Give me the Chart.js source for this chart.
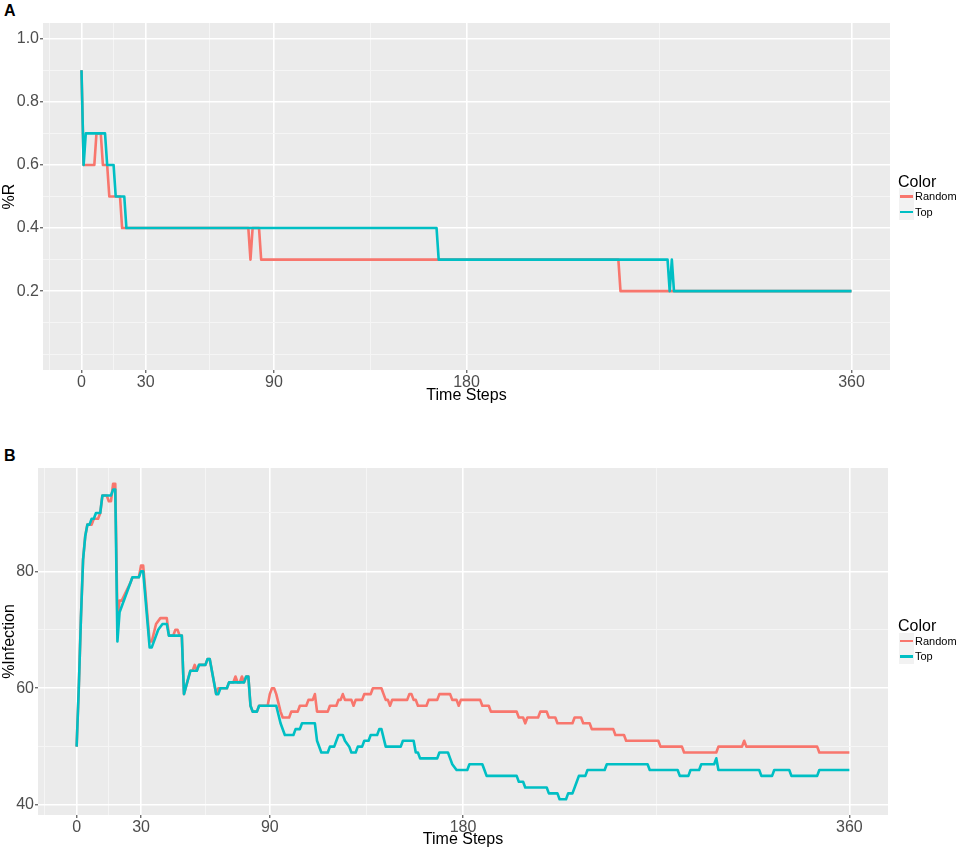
<!DOCTYPE html>
<html>
<head>
<meta charset="utf-8">
<script src="https://cdn.jsdelivr.net/npm/chart.js@4.4.1/dist/chart.umd.min.js"></script>
<style>
  html, body { margin: 0; padding: 0; background: #fff; }
  body { width: 957px; height: 851px; position: relative; overflow: hidden; font-family: 'Liberation Sans', Arial, sans-serif; }
  .panel { position: absolute; left: 0; width: 957px; }
  .tag { position: absolute; left: 4px; font-weight: bold; font-size: 16px; line-height: 16px; }
  .leg-title { position: absolute; left: 898px; font-size: 16px; line-height: 18px; color: #000; }
  .leg-key { position: absolute; left: 899px; width: 15px; height: 16px; background: #F2F2F2; }
  .leg-key span { position: absolute; left: 1px; right: 1px; top: 7px; height: 2.5px; }
  .leg-label { position: absolute; left: 915px; font-size: 11px; line-height: 12px; color: #000; }
</style>
</head>
<body>
<div class="tag" style="top:3px">A</div>
<div class="tag" style="top:448px">B</div>
<div class="panel" style="top:0;height:420px"><canvas id="chartA"></canvas></div>
<div class="panel" style="top:440px;height:411px"><canvas id="chartB"></canvas></div>
<div id="legends"></div>
<script>
// series names + colours (ggplot defaults)
const seriesNames = ['Random', 'Top']
const seriesColors = ['#F8766D', '#00BFC4']

// x axis (time steps), shared by both panels
const xMajor = [0, 30, 90, 180, 360]
const xMinor = [-15, 15, 60, 135, 270]
const xLimits = [0, 360]

// panel A: %R
const aYMajor = [0.2, 0.4, 0.6, 0.8, 1.0]
const aYMinor = [0.0, 0.1, 0.3, 0.5, 0.7, 0.9]
const aYLimits = [0, 1]
const aRandomT = [0, 1, 6, 7, 9, 10, 12, 13, 18, 19, 78, 79, 80, 83, 84, 251, 252, 360]
const aRandomV = [0.9, 0.6, 0.6, 0.7, 0.7, 0.6, 0.6, 0.5, 0.5, 0.4, 0.4, 0.3, 0.4, 0.4, 0.3, 0.3, 0.2, 0.2]
const aTopT = [0, 1, 2, 11, 12, 15, 16, 20, 21, 166, 167, 274, 275, 276, 277, 360]
const aTopV = [0.9, 0.6, 0.7, 0.7, 0.6, 0.6, 0.5, 0.5, 0.4, 0.4, 0.3, 0.3, 0.2, 0.3, 0.2, 0.2]

// panel B: %Infection
const bYMajor = [40, 60, 80]
const bYMinor = [50, 70, 90]
const bYLimits = [41, 95]
const bRandomT = [0, 1, 2, 3, 4, 5, 7, 8, 10, 11, 12, 14, 15, 16, 17, 18, 19, 20, 21, 25, 26, 29, 30, 31, 34, 35, 37, 39, 42, 43, 45, 46, 47, 48, 49, 50, 53, 54, 55, 56, 57, 60, 61, 62, 65, 66, 70, 71, 73, 74, 75, 76, 77, 78, 79, 80, 81, 82, 84, 85, 89, 90, 91, 92, 93, 95, 96, 99, 100, 103, 104, 107, 108, 110, 111, 112, 117, 118, 121, 122, 123, 124, 125, 128, 129, 130, 133, 134, 137, 138, 142, 143, 144, 145, 146, 147, 154, 155, 156, 157, 158, 159, 163, 164, 168, 169, 174, 175, 177, 178, 179, 188, 189, 192, 193, 205, 206, 208, 209, 210, 215, 216, 219, 220, 223, 224, 231, 232, 235, 236, 239, 240, 250, 251, 255, 256, 271, 272, 282, 283, 298, 299, 310, 311, 312, 345, 346, 360]
const bRandomV = [50, 60, 72, 82, 86, 88, 88, 89, 89, 90, 93, 93, 92, 92, 95, 95, 72, 75, 75, 78, 79, 79, 81, 81, 68, 68, 71, 72, 72, 69, 69, 70, 70, 69, 69, 59, 63, 63, 64, 63, 64, 64, 65, 65, 59, 60, 60, 61, 61, 62, 61, 61, 62, 61, 62, 62, 57, 56, 56, 57, 57, 59, 60, 60, 59, 56, 55, 55, 56, 56, 57, 57, 58, 58, 59, 56, 56, 57, 57, 58, 58, 59, 58, 58, 57, 58, 58, 59, 59, 60, 60, 59, 58, 58, 57, 58, 58, 59, 59, 58, 58, 57, 57, 58, 58, 59, 59, 58, 58, 57, 58, 58, 57, 57, 56, 56, 55, 55, 54, 55, 55, 56, 56, 55, 55, 54, 54, 55, 55, 54, 54, 53, 53, 52, 52, 51, 51, 50, 50, 49, 49, 50, 50, 51, 50, 50, 49, 49]
const bTopT = [0, 1, 2, 3, 4, 5, 6, 7, 8, 9, 11, 12, 16, 17, 18, 19, 20, 26, 29, 30, 31, 34, 35, 38, 40, 42, 43, 49, 50, 53, 56, 57, 60, 61, 62, 65, 66, 67, 70, 71, 78, 79, 80, 81, 82, 84, 85, 93, 95, 97, 101, 102, 104, 105, 111, 112, 114, 117, 118, 120, 121, 122, 124, 125, 127, 128, 130, 131, 133, 134, 136, 137, 140, 141, 142, 144, 151, 152, 157, 158, 159, 160, 168, 169, 173, 174, 175, 177, 182, 183, 189, 190, 191, 205, 206, 208, 209, 219, 220, 224, 225, 228, 229, 231, 233, 234, 237, 238, 246, 247, 266, 267, 280, 281, 285, 286, 290, 291, 297, 298, 299, 318, 319, 324, 325, 332, 333, 345, 346, 360]
const bTopV = [50, 60, 72, 82, 86, 88, 88, 89, 89, 90, 90, 93, 93, 94, 94, 68, 73, 79, 79, 80, 80, 67, 67, 70, 71, 71, 69, 69, 59, 63, 63, 64, 64, 65, 65, 59, 59, 60, 60, 61, 61, 62, 62, 57, 56, 56, 57, 57, 54, 52, 52, 53, 53, 54, 54, 51, 49, 49, 50, 50, 51, 52, 52, 51, 50, 49, 49, 50, 50, 51, 51, 52, 52, 53, 53, 50, 50, 51, 51, 49, 49, 48, 48, 49, 49, 48, 47, 46, 46, 47, 47, 46, 45, 45, 44, 44, 43, 43, 42, 42, 41, 41, 42, 42, 44, 45, 45, 46, 46, 47, 47, 46, 46, 45, 45, 46, 46, 47, 47, 48, 46, 46, 45, 45, 46, 46, 45, 45, 46, 46]

const toPoints = (ts, vs) => ts.map((t, i) => ({ x: t, y: vs[i] }))
const expand = (lim) => {
  const pad = (lim[1] - lim[0]) * 0.05
  return [lim[0] - pad, lim[1] + pad]
}

// grey panel behind the grid, like ggplot's theme_grey
const panelBackground = {
  id: 'panelBackground',
  beforeDraw(chart) {
    const { ctx, chartArea: a } = chart
    ctx.save()
    ctx.fillStyle = '#EBEBEB'
    ctx.fillRect(a.left, a.top, a.right - a.left, a.bottom - a.top)
    ctx.restore()
  }
}

const axisFor = ({ major, minor, limits, title, size, fmt, isX }) => {
  const range = expand(limits)
  const all = [...major, ...minor].sort((p, q) => p - q)
  return {
    type: 'linear',
    min: range[0],
    max: range[1],
    afterBuildTicks: (scale) => { scale.ticks = all.map(v => ({ value: v })) },
    afterFit: (scale) => { if (isX) scale.height = size; else scale.width = size },
    border: { display: false },
    grid: {
      color: (c) => major.includes(c.tick.value) ? '#FFFFFF' : '#F5F5F5',
      lineWidth: (c) => major.includes(c.tick.value) ? 1.6 : 1,
      tickColor: (c) => major.includes(c.tick.value) ? '#333333' : 'rgba(0,0,0,0)',
      tickLength: 3,
      tickWidth: 1
    },
    ticks: {
      autoSkip: false,
      maxRotation: 0,
      padding: isX ? 0 : 1,
      color: '#4D4D4D',
      font: { family: 'Liberation Sans', size: 16 },
      callback: (v) => major.includes(v) ? fmt(v) : ''
    },
    title: {
      display: true,
      text: title,
      color: '#000000',
      padding: 0,
      font: { family: 'Liberation Sans', size: 16 }
    }
  }
}

const makePanel = (id, cfg) => {
  const ctx = document.getElementById(id).getContext('2d')
  return new Chart(ctx, {
    type: 'line',
    data: {
      datasets: [
        {
          label: seriesNames[0],
          data: toPoints(cfg.randomT, cfg.randomV),
          borderColor: seriesColors[0],
          order: 1
        },
        {
          label: seriesNames[1],
          data: toPoints(cfg.topT, cfg.topV),
          borderColor: seriesColors[1],
          order: 0
        }
      ]
    },
    options: {
      responsive: true,
      maintainAspectRatio: false,
      animation: false,
      events: [],
      elements: {
        point: { radius: 0 },
        line: { borderWidth: 2.6, tension: 0, borderJoinStyle: 'round', fill: false }
      },
      layout: { padding: cfg.padding },
      plugins: { legend: { display: false }, tooltip: { enabled: false } },
      scales: {
        x: axisFor({ major: xMajor, minor: xMinor, limits: xLimits, title: 'Time Steps', size: cfg.xHeight, fmt: v => String(v), isX: true }),
        y: axisFor({ major: cfg.yMajor, minor: cfg.yMinor, limits: cfg.yLimits, title: cfg.yTitle, size: cfg.yWidth, fmt: cfg.yFmt, isX: false })
      }
    },
    plugins: [panelBackground]
  })
}

makePanel('chartA', {
  randomT: aRandomT, randomV: aRandomV, topT: aTopT, topV: aTopV,
  yMajor: aYMajor, yMinor: aYMinor, yLimits: aYLimits, yTitle: '%R',
  yFmt: v => v.toFixed(1), yWidth: 43, xHeight: 35,
  padding: { left: 0, top: 23, right: 67, bottom: 15 }
})

makePanel('chartB', {
  randomT: bRandomT, randomV: bRandomV, topT: bTopT, topV: bTopV,
  yMajor: bYMajor, yMinor: bYMinor, yLimits: bYLimits, yTitle: '%Infection',
  yFmt: v => String(v), yWidth: 38, xHeight: 34,
  padding: { left: 0, top: 28, right: 69, bottom: 2 }
})

// ggplot-style legends to the right of each panel
const legendTops = [181.5, 626]
const legendHost = document.getElementById('legends')
legendTops.forEach(cy => {
  const t = document.createElement('div')
  t.className = 'leg-title'
  t.style.top = (cy - 9) + 'px'
  t.textContent = 'Color'
  legendHost.appendChild(t)
  seriesNames.forEach((name, i) => {
    const rowY = cy + 14.5 + i * 15.7
    const key = document.createElement('div')
    key.className = 'leg-key'
    key.style.top = (rowY - 8) + 'px'
    const line = document.createElement('span')
    line.style.background = seriesColors[i]
    key.appendChild(line)
    legendHost.appendChild(key)
    const lab = document.createElement('div')
    lab.className = 'leg-label'
    lab.style.top = (rowY - 6) + 'px'
    lab.textContent = name
    legendHost.appendChild(lab)
  })
})
</script>
</body>
</html>
